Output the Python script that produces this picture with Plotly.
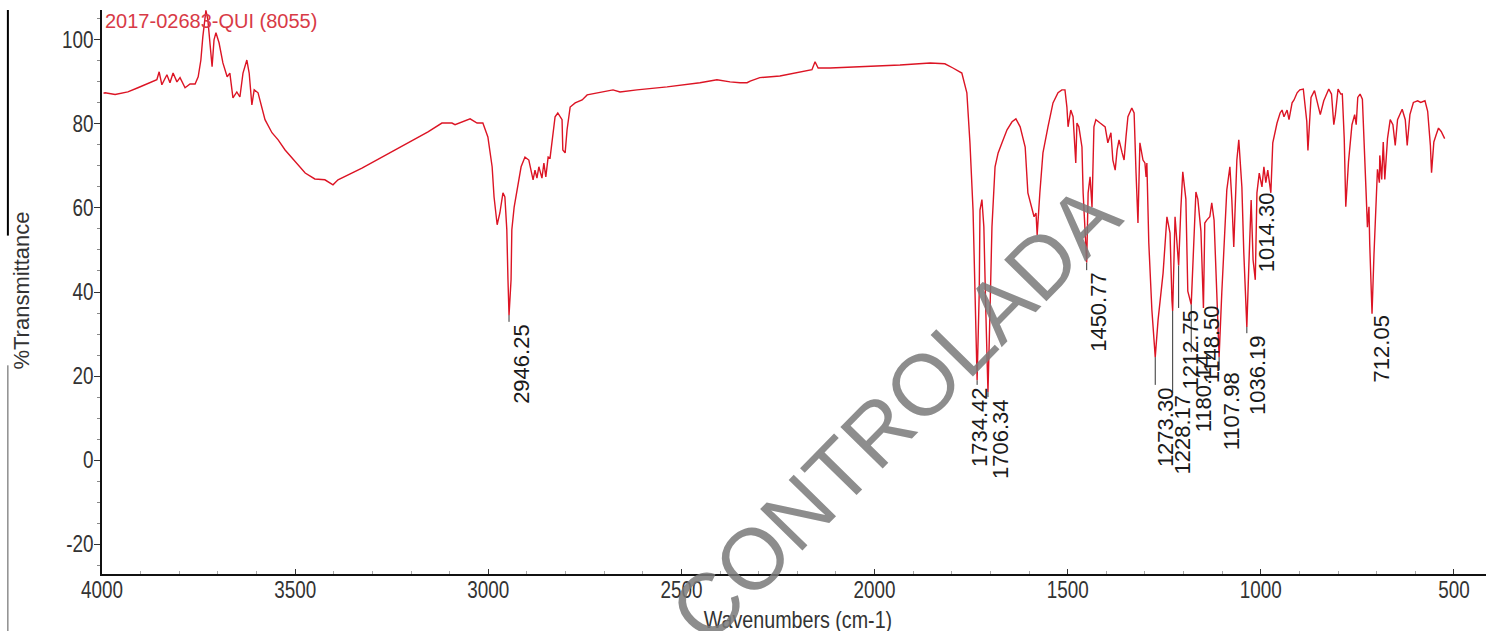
import plotly.graph_objects as go

# ---------------- data ----------------
wavenumber = [
    3996, 3992, 3966, 3933, 3907, 3889, 3871, 3858, 3852, 3845, 3832, 3824, 3816, 3806, 3798,
    3785, 3772, 3759, 3751, 3744, 3739, 3731, 3726, 3718, 3715, 3710, 3705, 3697, 3687, 3676,
    3669, 3661, 3651, 3643, 3635, 3625, 3619, 3612, 3606, 3596, 3586, 3578, 3560, 3544, 3526,
    3500, 3474, 3449, 3423, 3402, 3389, 3327, 3241, 3156, 3120, 3094, 3086, 3068, 3047, 3029,
    3014, 3001, 2990, 2985, 2977, 2970, 2962, 2957, 2952, 2949, 2946.25, 2941, 2939, 2933, 2926,
    2915, 2905, 2895, 2884, 2879, 2874, 2869, 2861, 2856, 2851, 2845, 2840, 2835, 2827, 2820,
    2809, 2807, 2801, 2796, 2788, 2775, 2757, 2744, 2719, 2677, 2659, 2615, 2537, 2452, 2408,
    2374, 2348, 2330, 2322, 2297, 2245, 2193, 2162, 2154, 2146, 2115, 2038, 1934, 1856, 1818,
    1797, 1774, 1761, 1753, 1745, 1740, 1734.42, 1729, 1727, 1722, 1717, 1712, 1706.34, 1701, 1696,
    1688, 1680, 1670, 1657, 1644, 1634, 1623, 1610, 1603, 1592, 1587, 1582, 1579, 1572, 1564,
    1551, 1538, 1525, 1515, 1507, 1502, 1499, 1492, 1486, 1481, 1479, 1476, 1471, 1463, 1460,
    1450.77, 1447, 1442, 1437, 1432, 1427, 1416, 1403, 1396, 1388, 1383, 1377, 1372, 1367, 1359,
    1354, 1349, 1344, 1334, 1328, 1323, 1318, 1313, 1305, 1300, 1297, 1295, 1290, 1282, 1273.30,
    1266, 1253, 1243, 1235, 1230, 1228.17, 1222, 1217, 1212.75, 1207, 1202, 1194, 1189, 1180.14, 1176,
    1168, 1163, 1155, 1148.50, 1145, 1140, 1132, 1127, 1121, 1114, 1107.98, 1101, 1093, 1088, 1080,
    1075, 1070, 1062, 1057, 1049, 1044, 1036.19, 1031, 1025, 1020, 1014.30, 1010, 1004, 997, 992,
    987, 982, 974, 969, 958, 950, 945, 940, 932, 927, 919, 914, 906, 899, 890,
    881, 878, 870, 861, 852, 846, 837, 824, 817, 811, 807, 800, 793, 789, 784,
    780, 773, 764, 757, 753, 749, 743, 737, 731, 727, 724, 720, 718, 714, 712.05,
    707, 702, 698, 693, 692, 687, 683, 679, 672, 665, 658, 652, 646, 634, 626,
    621, 614, 605, 594, 586, 575, 568, 561, 558, 552, 546, 540, 533, 524,
]
transmittance = [
    87.3, 87.4, 87.0, 87.6, 88.6, 89.3, 90.0, 90.5, 92.4, 89.3, 91.7, 89.8, 92.1, 90.0, 91.0,
    88.6, 89.5, 89.5, 91.2, 95.2, 100.7, 107.0, 104.8, 97.6, 93.6, 100.0, 101.7, 99.3, 94.5, 91.2,
    92.1, 86.2, 87.6, 86.4, 92.1, 95.2, 92.1, 84.5, 88.1, 87.4, 84.0, 81.0, 77.9, 76.2, 73.8,
    71.0, 68.3, 66.9, 66.7, 65.5, 66.7, 69.5, 73.8, 78.1, 80.2, 80.2, 79.8, 80.5, 81.2, 80.2,
    80.2, 76.9, 69.8, 62.6, 56.0, 58.8, 63.6, 62.6, 54.8, 42.9, 34.5, 42.9, 54.8, 60.2, 63.6,
    69.8, 72.1, 71.4, 66.7, 69.0, 67.1, 69.8, 67.1, 70.7, 67.4, 72.1, 71.9, 76.2, 81.7, 82.6,
    81.0, 73.8, 73.1, 78.6, 84.0, 85.0, 85.7, 86.9, 87.4, 88.1, 87.6, 88.1, 88.8, 89.8, 90.5,
    90.0, 89.8, 89.8, 90.2, 91.0, 91.4, 92.4, 92.9, 94.8, 93.3, 93.3, 93.6, 94.0, 94.5, 94.3,
    93.3, 92.1, 87.4, 75.5, 59.5, 39.8, 19.0, 39.8, 59.5, 62.0, 55.5, 35.7, 16.2, 35.7, 55.5,
    69.8, 73.1, 75.5, 78.6, 80.5, 81.2, 79.3, 74.5, 63.6, 59.5, 57.9, 58.8, 53.6, 63.6, 73.1,
    79.3, 85.0, 87.4, 88.1, 88.1, 84.0, 79.3, 83.3, 81.7, 75.5, 70.7, 80.2, 79.3, 74.5, 63.6,
    47.0, 63.6, 67.4, 60.2, 79.3, 81.0, 80.2, 79.3, 75.5, 77.9, 71.4, 69.0, 73.8, 76.2, 73.1,
    71.4, 76.9, 81.7, 83.8, 82.6, 68.3, 56.4, 75.5, 71.4, 70.7, 67.4, 70.7, 51.7, 35.7, 24.5,
    33.3, 44.5, 57.9, 54.0, 38.0, 35.5, 57.9, 52.4, 46.3, 59.8, 68.6, 62.1, 40.2, 37.0, 46.2,
    63.8, 62.1, 54.5, 36.2, 56.4, 57.1, 57.9, 61.2, 57.1, 39.8, 24.5, 39.8, 54.0, 64.3, 69.8,
    61.9, 50.7, 71.4, 76.2, 65.0, 49.3, 31.7, 46.2, 61.9, 47.6, 42.9, 63.6, 68.3, 65.0, 69.8,
    66.0, 69.0, 63.6, 75.5, 80.2, 82.6, 83.3, 81.7, 83.3, 81.0, 85.0, 85.7, 87.4, 88.1, 88.3,
    80.6, 73.7, 86.3, 87.9, 84.7, 82.2, 85.5, 88.3, 87.1, 79.8, 82.2, 88.3, 87.1, 87.1, 76.5,
    60.3, 70.9, 79.8, 82.2, 79.8, 86.3, 87.1, 85.9, 74.1, 62.7, 55.4, 60.3, 51.4, 38.4, 34.8,
    48.9, 62.7, 69.2, 66.0, 72.5, 66.8, 75.7, 66.8, 76.5, 81.0, 79.8, 74.9, 81.0, 83.5, 81.0,
    74.9, 82.2, 85.1, 85.5, 85.1, 85.5, 83.0, 74.9, 68.4, 75.7, 77.4, 79.0, 78.2, 76.5,
]

peak_wavenumbers = [2946.25, 1734.42, 1706.34, 1450.77, 1273.30, 1228.17, 1212.75,
                    1180.14, 1148.50, 1107.98, 1036.19, 1014.30, 712.05]
peak_labels = ["2946.25", "1734.42", "1706.34", "1450.77", "1273.30", "1228.17", "1212.75",
               "1180.14", "1148.50", "1107.98", "1036.19", "1014.30", "712.05"]

x_ticks = [4000, 3500, 3000, 2500, 2000, 1500, 1000, 500]
y_ticks = [-20, 0, 20, 40, 60, 80, 100]

sample_name = "2017-02683-QUI (8055)"
x_title = "Wavenumbers (cm-1)"
y_title = "%Transmittance"
watermark = "CONTROLADA"

# label placement (style): top of each rotated label in %T, and pixel shift to the right
label_top = [32.9, 17.9, 15.0, 45.2, 17.9, 16.0, 36.2, 25.7, 37.4, 21.4, 30.2, 64.3, 34.8]
label_shift = [13, 3, 12, 11, 11, 10, 12, 12, 8, 12, 10, 12, 9]

# ---------------- figure ----------------
lookup = dict(zip(wavenumber, transmittance))
peak_T = [lookup[w] for w in peak_wavenumbers]

REG = "Liberation Sans, Arial, sans-serif"

fig = go.Figure()
fig.add_trace(go.Scatter(
    x=wavenumber, y=transmittance, mode="lines",
    line=dict(color="#dc1424", width=1.4), hoverinfo="skip", showlegend=False,
))

shapes = []
annotations = []
for w, t, lab, top, sh in zip(peak_wavenumbers, peak_T, peak_labels, label_top, label_shift):
    if top < t - 0.5:
        shapes.append(dict(type="line", xref="x", yref="y", x0=w, x1=w, y0=t, y1=top,
                           line=dict(color="#333333", width=1)))
    annotations.append(dict(
        x=w, y=top, xref="x", yref="y", text=lab, showarrow=False, textangle=-90,
        xanchor="center", yanchor="top", xshift=sh,
        font=dict(family=REG, size=22, color="#1a1a1a"),
    ))

# left frame line (broken by the y title)
shapes.append(dict(type="line", xref="paper", yref="paper", x0=-0.068, x1=-0.068,
                   y0=1.0, y1=0.60, line=dict(color="#000000", width=2)))
shapes.append(dict(type="line", xref="paper", yref="paper", x0=-0.068, x1=-0.068,
                   y0=0.37, y1=-0.12, line=dict(color="#555555", width=1)))

annotations.append(dict(x=0.001, y=1.0, xref="paper", yref="paper", text=sample_name,
                        showarrow=False, xanchor="left", yanchor="top", yshift=2,
                        font=dict(family=REG, size=20, color="#d83a46")))
annotations.append(dict(x=-0.058, y=0.502, xref="paper", yref="paper", text=y_title,
                        showarrow=False, textangle=-90, xanchor="center", yanchor="middle",
                        font=dict(family=REG, size=22, color="#333333")))
xtitle_index = len(annotations)
annotations.append(dict(x=0.503, y=-0.08, xref="paper", yref="paper", text=x_title,
                        showarrow=False, xanchor="center", yanchor="middle",
                        font=dict(family=REG, size=24, color="#333333")))
annotations.append(dict(x=0.573, y=0.2855, xref="paper", yref="paper", text=watermark,
                        showarrow=False, textangle=-45.6, xanchor="center", yanchor="middle",
                        opacity=0.85,
                        font=dict(family=REG, size=86, color="#7a7a7a")))

fig.update_layout(
    width=1486, height=631,
    margin=dict(l=102, r=0, t=10, b=57),
    paper_bgcolor="white", plot_bgcolor="white",
    shapes=shapes, annotations=annotations,
    xaxis=dict(
        range=[4000, 417], tickvals=x_ticks, ticktext=[str(v) for v in x_ticks],
        ticks="inside", ticklen=5, tickwidth=1.2, tickcolor="#333333",
        showline=True, linecolor="#111111", linewidth=1.6, mirror=False,
        showgrid=False, zeroline=False, automargin=False, ticklabelstandoff=-5,
        tickfont=dict(family=REG, size=23, color="#333333"),
        minor=dict(dtick=100, tick0=0, ticks="inside", ticklen=3, tickcolor="#aaaaaa",
                   showgrid=False),
    ),
    yaxis=dict(
        range=[-27.1, 107.1], tickvals=y_ticks, ticktext=[str(v) for v in y_ticks],
        ticks="outside", ticklen=6, tickwidth=1.2, tickcolor="#333333",
        showline=True, linecolor="#111111", linewidth=2, mirror=False,
        showgrid=False, zeroline=False, automargin=False, ticklabelstandoff=-4,
        tickfont=dict(family=REG, size=23, color="#333333"),
        minor=dict(dtick=5, tick0=0, ticks="outside", ticklen=3, tickcolor="#888888",
                   showgrid=False),
    ),
)

post_script = """
document.body.style.margin = '0';
document.body.style.padding = '0';
function squeeze(sel, f) {
  document.querySelectorAll(sel).forEach(function (t) {
    var w = t.getComputedTextLength();
    t.setAttribute('textLength', (w * f).toFixed(2));
    t.setAttribute('lengthAdjust', 'spacingAndGlyphs');
  });
}
squeeze('.xtick text', 0.82);
squeeze('.ytick text', 0.82);
squeeze('.annotation[data-index="%d"] text', 0.82);
""" % xtitle_index

fig.write_html("out.html", config={"displayModeBar": False}, post_script=post_script)
